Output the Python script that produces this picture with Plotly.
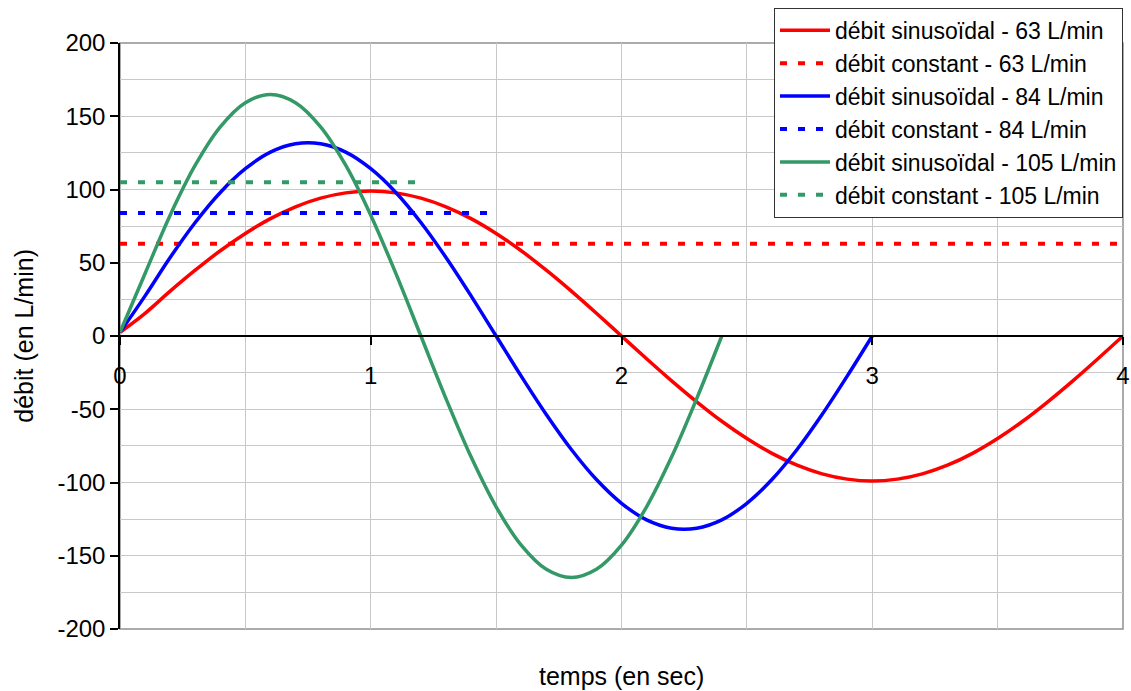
import plotly.graph_objects as go

# time grids (s)
t_red = [round(0.1 * i, 1) for i in range(41)]    # 0 .. 4
t_blue = [round(0.1 * i, 1) for i in range(31)]   # 0 .. 3
t_green = [round(0.1 * i, 1) for i in range(25)]  # 0 .. 2.4

# sinusoidal flows (L/min)
sin_63 = [2.5, 15.5, 30.6, 44.9, 58.2, 70.0, 80.1, 88.2, 94.1, 97.7, 99.0,
          97.7, 94.1, 88.2, 80.1, 70.0, 58.2, 44.9, 30.6, 15.5, 0,
          -15.5, -30.6, -44.9, -58.2, -70.0, -80.1, -88.2, -94.1, -97.7, -99.0,
          -97.7, -94.1, -88.2, -80.1, -70.0, -58.2, -44.9, -30.6, -15.5, 0]
sin_84 = [2.5, 27.4, 53.6, 77.5, 98.0, 114.2, 125.5, 131.2, 131.2, 125.5, 114.2,
          98.0, 77.5, 53.6, 27.4, 0, -27.4, -53.6, -77.5, -98.0, -114.2,
          -125.5, -131.2, -131.2, -125.5, -114.2, -98.0, -77.5, -53.6, -27.4, 0]
sin_105 = [2.5, 42.7, 82.5, 116.6, 142.8, 159.3, 164.9, 159.3, 142.8, 116.6, 82.5,
           42.7, 0, -42.7, -82.5, -116.6, -142.8, -159.3, -164.9, -159.3, -142.8,
           -116.6, -82.5, -42.7, 0]

# constant flows
const_x_63 = [0, 4]
const_63 = [63, 63]
const_x_84 = [0, 1.5]
const_84 = [84, 84]
const_x_105 = [0, 1.2]
const_105 = [105, 105]

# tick labels
y_tick_vals = [-200, -150, -100, -50, 0, 50, 100, 150, 200]
y_tick_text = ["-200", "-150", "-100", "-50", "0", "50", "100", "150", "200"]
x_tick_vals = [0, 1, 2, 3, 4]
x_tick_text = ["0", "1", "2", "3", "4"]

RED = "#ff0000"
BLUE = "#0000ff"
GREEN = "#339966"
FONT = "Liberation Sans"
DASH = "7px,11px"

fig = go.Figure()
fig.add_trace(go.Scatter(x=t_red, y=sin_63, mode="lines", name="débit sinusoïdal - 63 L/min",
                         line=dict(color=RED, width=3.5, shape="spline")))
fig.add_trace(go.Scatter(x=const_x_63, y=const_63, mode="lines", name="débit constant - 63 L/min",
                         line=dict(color=RED, width=4, dash=DASH)))
fig.add_trace(go.Scatter(x=t_blue, y=sin_84, mode="lines", name="débit sinusoïdal - 84 L/min",
                         line=dict(color=BLUE, width=3.5, shape="spline")))
fig.add_trace(go.Scatter(x=const_x_84, y=const_84, mode="lines", name="débit constant - 84 L/min",
                         line=dict(color=BLUE, width=4, dash=DASH)))
fig.add_trace(go.Scatter(x=t_green, y=sin_105, mode="lines", name="débit sinusoïdal - 105 L/min",
                         line=dict(color=GREEN, width=3.5, shape="spline")))
fig.add_trace(go.Scatter(x=const_x_105, y=const_105, mode="lines", name="débit constant - 105 L/min",
                         line=dict(color=GREEN, width=4, dash=DASH)))

GRID = "#c8c8c8"

fig.update_layout(
    width=1131, height=691,
    margin=dict(l=120, r=8, t=43, b=62),
    paper_bgcolor="white", plot_bgcolor="white",
    font=dict(family=FONT, size=23, color="black"),
    showlegend=True,
    legend=dict(x=1.0, xanchor="right", y=1.06, yanchor="top", itemwidth=50,
                bgcolor="white", bordercolor="#333333", borderwidth=1,
                font=dict(family=FONT, size=23), tracegroupgap=0),
    xaxis=dict(range=[0, 4], tickmode="array", tickvals=x_tick_vals, ticktext=x_tick_text,
               showgrid=True, gridcolor=GRID, gridwidth=1,
               minor=dict(dtick=0.5, tick0=0, showgrid=True, gridcolor=GRID, gridwidth=1),
               anchor="free", position=0.5, showline=True, linecolor="black", linewidth=1.5,
               ticks="outside", ticklen=8, tickcolor="black", tickwidth=1.5,
               ticklabelstandoff=10, zeroline=False, automargin=False,
               tickfont=dict(family=FONT, size=24)),
    yaxis=dict(range=[-200, 200], tickmode="array", tickvals=y_tick_vals, ticktext=y_tick_text,
               showgrid=True, gridcolor=GRID, gridwidth=1,
               minor=dict(dtick=25, tick0=0, showgrid=True, gridcolor=GRID, gridwidth=1),
               showline=True, linecolor="black", linewidth=1.5,
               ticks="outside", ticklen=8, tickcolor="black", tickwidth=1.5,
               zeroline=False, automargin=False, tickfont=dict(family=FONT, size=24)),
    shapes=[dict(type="rect", xref="x domain", yref="y domain", x0=0, x1=1, y0=0, y1=1,
                 line=dict(color="#909090", width=1.5), layer="below")],
    annotations=[
        dict(text="temps (en sec)", xref="paper", yref="paper", x=0.5, y=-0.080,
             xanchor="center", yanchor="middle", showarrow=False,
             font=dict(family=FONT, size=25)),
        dict(text="débit (en L/min)", xref="paper", yref="paper", x=-0.096, y=0.5,
             xanchor="center", yanchor="middle", showarrow=False, textangle=-90,
             font=dict(family=FONT, size=25)),
    ],
)

fig.write_html("out.html", config={"displayModeBar": False},
               post_script="document.body.style.margin='0';document.body.style.overflow='hidden';")
